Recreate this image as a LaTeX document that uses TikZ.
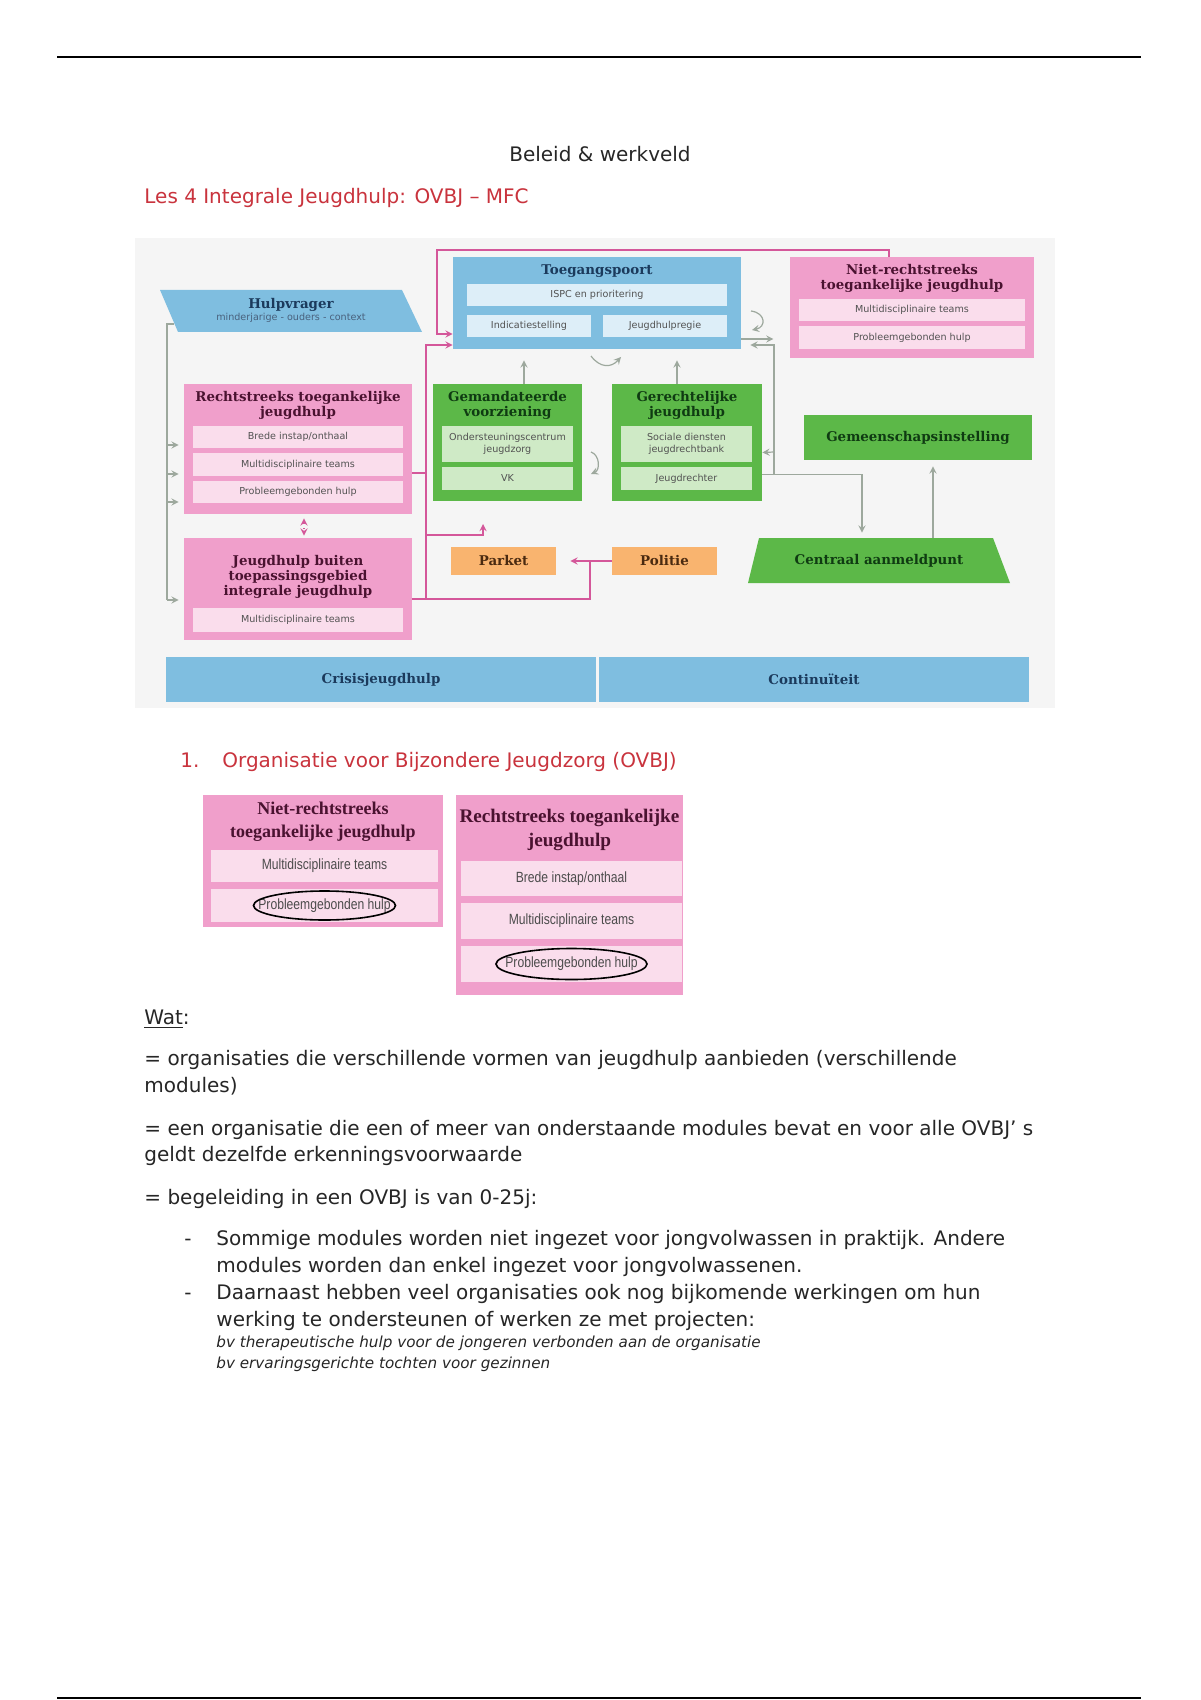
\documentclass[tikz,border=0pt]{standalone}
\usepackage{fontspec}
\setmainfont{DejaVu Sans}
\newfontfamily\slabfont{DejaVu Serif}
\newfontfamily\bookfont{Liberation Serif}
\newfontfamily\narrowfont[FakeStretch=0.82]{Liberation Sans}
\usetikzlibrary{calc}
\definecolor{tpblue}{HTML}{7FBEE0}
\definecolor{tpbluelight}{HTML}{DDEEF8}
\definecolor{tppink}{HTML}{F09FCB}
\definecolor{tppinklight}{HTML}{FADDEC}
\definecolor{tpgreen}{HTML}{5CB848}
\definecolor{tpgreenlight}{HTML}{CFEAC6}
\definecolor{tporange}{HTML}{F9B46F}
\definecolor{bluetext}{HTML}{1B3A5C}
\definecolor{pinktext}{HTML}{4A1230}
\definecolor{greentext}{HTML}{0F3B12}
\definecolor{orangetext}{HTML}{4A2A10}
\definecolor{lnpink}{HTML}{D4579A}
\definecolor{lngray}{HTML}{9DA89D}
\definecolor{headred}{HTML}{C9333D}
\definecolor{diagbg}{HTML}{F5F5F5}
\begin{document}
\begin{tikzpicture}[x=0.5pt, y=-0.5pt, >=stealth,
  every node/.style={inner sep=0pt},
  spanbox/.style args={#1/#2/#3/#4}{at={({(#1+#3)/2},{(#2+#4)/2})},
    minimum width={(#3-#1)*0.5pt}, minimum height={(#4-#2)*0.5pt}},
  panel/.style={fill=#1},
  modbar/.style={fill=#1, text=black!68, align=center,
    font=\fontsize{4.8}{6.3}\selectfont},
  bigbar/.style={fill=tppinklight, text=black!70,
    font=\narrowfont\fontsize{7.4}{9}\selectfont},
  boxtitle/.style={text=#1, align=center,
    font=\slabfont\bfseries\fontsize{6.7}{7.6}\selectfont},
  ovbjtitle/.style={text=pinktext, align=center,
    font=\bookfont\bfseries\fontsize{9}{11.5}\selectfont},
  pinkline/.style={draw=lnpink, line width=0.6pt},
  grayline/.style={draw=lngray, line width=0.6pt},
  bodytext/.style={anchor=west, text=black!85, text height=7.3pt, text depth=2.2pt,
    font=\fontsize{10}{12}\selectfont}]
\fill[white] (0,0) rectangle (1200,1700);
\useasboundingbox (0,0) rectangle (1200,1700);
\draw[line width=1.2pt] (57,57) -- (1141,57);
\draw[line width=1.2pt] (57,1698) -- (1141,1698);

\node[text=black!85, font=\fontsize{10}{12}\selectfont] (hdr) at (600,154) {Beleid \& werkveld};
\node[bodytext, text=headred] (les) at (144,198) {Les 4 Integrale Jeugdhulp: OVBJ – MFC};

% overzicht integrale jeugdhulp
\fill[diagbg] (135,238) rectangle (1055,708);

\fill[tpblue] (160,290) -- (402,290) -- (422,332) -- (178,332) -- cycle;
\node[boxtitle=bluetext] (hulp) at (291,305) {Hulpvrager};
\node[modbar=tpblue, text=bluetext!80] (hulpsub) at (291,318) {minderjarige - ouders - context};
\coordinate (hulpleft) at (174,324);

\node[panel=tpblue, spanbox=453/257/741/349] (tp) {};
\node[boxtitle=bluetext] (tptitle) at (597,271) {Toegangspoort};
\node[modbar=tpbluelight, spanbox=467/284/727/306] (ispc) {ISPC en prioritering};
\node[modbar=tpbluelight, spanbox=467/315/591/337] (indic) {Indicatiestelling};
\node[modbar=tpbluelight, spanbox=603/315/727/337] (regie) {Jeugdhulpregie};

\node[panel=tppink, spanbox=790/257/1034/358] (nrj) {};
\node[boxtitle=pinktext] (nrjtitle) at (912,278.5) {Niet-rechtstreeks\\toegankelijke jeugdhulp};
\node[modbar=tppinklight, spanbox=799/299/1025/321] (nrjmt) {Multidisciplinaire teams};
\node[modbar=tppinklight, spanbox=799/326/1025/349] (nrjpb) {Probleemgebonden hulp};

\node[panel=tppink, spanbox=184/384/412/514] (rtj) {};
\node[boxtitle=pinktext] (rtjtitle) at (298,405.5) {Rechtstreeks toegankelijke\\jeugdhulp};
\node[modbar=tppinklight, spanbox=193/426/403/448] (rtjbi) {Brede instap/onthaal};
\node[modbar=tppinklight, spanbox=193/453/403/476] (rtjmt) {Multidisciplinaire teams};
\node[modbar=tppinklight, spanbox=193/481/403/503] (rtjpb) {Probleemgebonden hulp};

\node[panel=tpgreen, spanbox=433/384/582/501] (gem) {};
\node[boxtitle=greentext] (gemtitle) at (507.5,405.5) {Gemandateerde\\voorziening};
\node[modbar=tpgreenlight, spanbox=442/426/573/462] (ocj) {Ondersteuningscentrum\\jeugdzorg};
\node[modbar=tpgreenlight, spanbox=442/467/573/490] (vk) {VK};

\node[panel=tpgreen, spanbox=612/384/762/501] (ger) {};
\node[boxtitle=greentext] (gertitle) at (687,405.5) {Gerechtelijke\\jeugdhulp};
\node[modbar=tpgreenlight, spanbox=621/426/752/462] (sdj) {Sociale diensten\\jeugdrechtbank};
\node[modbar=tpgreenlight, spanbox=621/467/752/490] (jr) {Jeugdrechter};

\node[panel=tpgreen, boxtitle=greentext, spanbox=804/415/1032/460] (gis) {Gemeenschapsinstelling};

\node[panel=tppink, spanbox=184/538/412/640] (jbt) {};
\node[boxtitle=pinktext] (jbttitle) at (298,577) {Jeugdhulp buiten\\toepassingsgebied\\integrale jeugdhulp};
\node[modbar=tppinklight, spanbox=193/608/403/632] (jbtmt) {Multidisciplinaire teams};

\node[panel=tporange, boxtitle=orangetext, spanbox=451/547/556/575] (pk) {Parket};
\node[panel=tporange, boxtitle=orangetext, spanbox=612/547/717/575] (pol) {Politie};

\fill[tpgreen] (759,538) -- (993,538) -- (1010,583) -- (748,583) -- cycle;
\node[boxtitle=greentext, minimum width=117pt, minimum height=22.5pt] (aanmeld) at (879,560.5) {Centraal aanmeldpunt};

\node[panel=tpblue, boxtitle=bluetext, spanbox=166/657/596/702] (crisis) {Crisisjeugdhulp};
\node[panel=tpblue, boxtitle=bluetext, spanbox=599/657/1029/702] (cont) {Continuïteit};

% verbindingen
\coordinate (rail) at (167,324);
\draw[grayline] (hulpleft) -- (rail) -- (rail |- 0,600);
\foreach \y in {445,474,502,600}
  \draw[grayline,->,shorten >=2.5pt] (rail |- 0,\y) -- (rtj.west |- 0,\y);

\draw[pinkline,->] ($(nrj.north)+(-23,0)$) |- (437,250) |- ($(tp.west)+(0,31)$);
\draw[pinkline,->] ($(jbt.east)+(0,10)$) -| (426,345) -- ($(tp.west)+(0,42)$);
\draw[pinkline] ($(rtj.east)+(0,24)$) -- (426,473);
\coordinate (gemfoot) at (483,524);
\draw[pinkline,->] (426,535) -| (gemfoot);
\draw[pinkline] (426,599) -| (590,561);
\draw[pinkline,->,shorten >=7pt] (pol.west) -- (pk.east);
\draw[pinkline,dotted,<->] ($(rtj.south)+(6,4)$) -- ($(jbt.north)+(6,-2)$);

\draw[grayline,->,shorten >=5.5pt] (gem.north -| 524,0) -- (tp.south -| 524,0);
\draw[grayline,->,shorten >=5.5pt] (ger.north -| 677,0) -- (tp.south -| 677,0);
\draw[grayline,->] ($(tp.east)+(0,36)$) -- ++(32,0);
\draw[grayline,->,shorten >=4.5pt] (774,475) |- ($(tp.east)+(0,42)$);
\draw[grayline,->] (774,452) -- ($(ger.east)+(0,10)$);
\draw[grayline,->,shorten >=2.5pt] ($(ger.east)+(0,32)$) -| (aanmeld.north -| 862,0);
\draw[grayline,->,shorten >=3pt] (aanmeld.north -| 933,0) -- (gis.south -| 933,0);
\draw[grayline,->] (591,356) .. controls (600,368) and (611,368) .. (621,357);
\draw[grayline,->] (751,311) .. controls (766,313) and (766,327) .. (752,330);
\draw[grayline,->] (591,452) .. controls (600,455) and (600,470) .. (591,474);

% OVBJ
\node[bodytext, text=headred] (num) at (180,762) {1.};
\node[bodytext, text=headred] (ovbj) at (222,762) {Organisatie voor Bijzondere Jeugdzorg (OVBJ)};

\node[panel=tppink, spanbox=203/795/443/927] (nrj2) {};
\node[ovbjtitle] (nrj2title) at (323,821.5) {Niet-rechtstreeks\\toegankelijke jeugdhulp};
\node[bigbar, spanbox=211/850/438/882] (nrj2mt) {Multidisciplinaire teams};
\node[bigbar, spanbox=211/889/438/922] (nrj2pb) {Probleemgebonden hulp};
\draw[line width=0.8pt] (nrj2pb.center) ellipse [x radius=71, y radius=14.5];

\node[panel=tppink, spanbox=456/795/683/995] (rtj2) {};
\node[ovbjtitle, font=\bookfont\bfseries\fontsize{9.6}{12}\selectfont] (rtj2title) at (569.5,830) {Rechtstreeks toegankelijke\\jeugdhulp};
\node[bigbar, spanbox=461/861/682/896] (rtj2bi) {Brede instap/onthaal};
\node[bigbar, spanbox=461/903/682/939] (rtj2mt) {Multidisciplinaire teams};
\node[bigbar, spanbox=461/946/682/982] (rtj2pb) {Probleemgebonden hulp};
\draw[line width=0.8pt] (rtj2pb.center) ellipse [x radius=75.5, y radius=15.5];

% tekst
\node[bodytext] (wat) at (144,1019) {\underline{Wat}:};
\node[bodytext] (wat1) at (144,1060) {= organisaties die verschillende vormen van jeugdhulp aanbieden (verschillende};
\node[bodytext] (wat1b) at (144,1087) {modules)};
\node[bodytext] (wat2) at (144,1130) {= een organisatie die een of meer van onderstaande modules bevat en voor alle OVBJ’ s};
\node[bodytext] (wat2b) at (144,1156) {geldt dezelfde erkenningsvoorwaarde};
\node[bodytext] (wat3) at (144,1199) {= begeleiding in een OVBJ is van 0-25j:};
\node[bodytext] (dash1) at (184,1240) {-};
\node[bodytext] (bul1) at (216,1240) {Sommige modules worden niet ingezet voor jongvolwassen in praktijk. Andere};
\node[bodytext] (bul1b) at (216,1267) {modules worden dan enkel ingezet voor jongvolwassenen.};
\node[bodytext] (dash2) at (184,1294) {-};
\node[bodytext] (bul2) at (216,1294) {Daarnaast hebben veel organisaties ook nog bijkomende werkingen om hun};
\node[bodytext] (bul2b) at (216,1321) {werking te ondersteunen of werken ze met projecten:};
\node[bodytext, text height=5.6pt, text depth=1.7pt, font=\itshape\fontsize{7.6}{9}\selectfont] (bv1) at (216,1344) {bv therapeutische hulp voor de jongeren verbonden aan de organisatie};
\node[bodytext, text height=5.6pt, text depth=1.7pt, font=\itshape\fontsize{7.6}{9}\selectfont] (bv2) at (216,1365) {bv ervaringsgerichte tochten voor gezinnen};
\end{tikzpicture}
\end{document}
